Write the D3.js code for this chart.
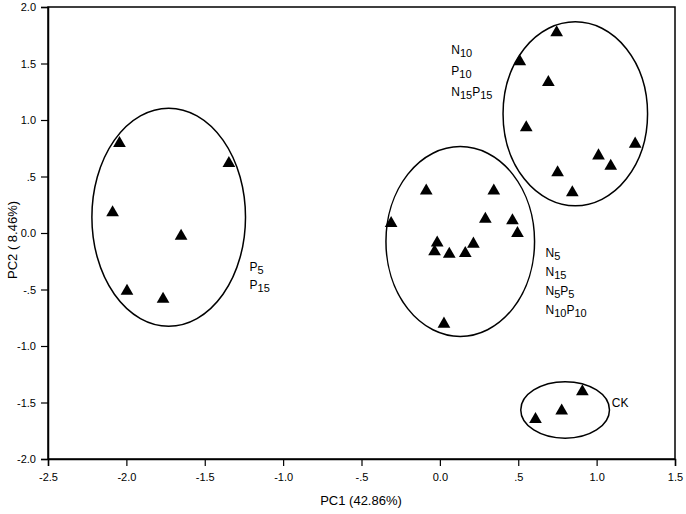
<!DOCTYPE html>
<html><head><meta charset="utf-8">
<script src="https://cdn.jsdelivr.net/npm/d3@7"></script>
<style>body{margin:0;background:#fff}svg{display:block}text{font-family:"Liberation Sans",Arial,sans-serif;fill:#000}</style>
</head><body><svg id="c" width="686" height="514"></svg>
<script>
const xTicks=[-2.5,-2.0,-1.5,-1.0,-0.5,0.0,0.5,1.0,1.5];
const xTickLabels=["-2.5","-2.0","-1.5","-1.0","-.5","0.0",".5","1.0","1.5"];
const yTicks=[-2.0,-1.5,-1.0,-0.5,0.0,0.5,1.0,1.5,2.0];
const yTickLabels=["-2.0","-1.5","-1.0","-.5","0.0",".5","1.0","1.5","2.0"];
const xTitle="PC1 (42.86%)";
const yTitle="PC2 ( 8.46%)";
// points
const pc1=[-2.044,-1.346,-2.088,-1.651,-1.996,-1.766,
 -0.087,0.344,-0.311,0.290,0.463,0.495,-0.017,-0.034,0.060,0.214,0.162,0.026,
 0.745,0.510,0.692,0.551,1.246,1.012,1.090,0.751,0.845,
 0.909,0.777,0.610];
const pc2=[0.794,0.617,0.180,-0.027,-0.513,-0.584,
 0.374,0.374,0.086,0.124,0.109,-0.003,-0.086,-0.165,-0.186,-0.097,-0.180,-0.805,
 1.773,1.516,1.333,0.932,0.788,0.684,0.593,0.534,0.357,
 -1.404,-1.573,-1.649];
// group ellipses
const ellCx=[-1.730,0.130,0.864,0.799];
const ellCy=[0.140,-0.075,1.055,-1.566];
const ellRx=[0.490,0.474,0.461,0.283];
const ellRy=[0.965,0.840,0.814,0.250];
// group labels: lines of [base, sub] pairs
const labelLines=[
 [[["N","10"]],[["P","10"]],[["N","15"],["P","15"]]],
 [[["P","5"]],[["P","15"]]],
 [[["N","5"]],[["N","15"]],[["N","5"],["P","5"]],[["N","10"],["P","10"]]],
 [[["CK",""]]]
];
const labelX=[0.073,-1.214,0.674,1.097];
const labelY=[1.585,-0.336,-0.212,-1.541];

const svg=d3.select("#c");
const x=d3.scaleLinear().domain([-2.5,1.5]).range([48,675]);
const y=d3.scaleLinear().domain([-2,2]).range([459,7]);

svg.append("rect").attr("x",48).attr("y",7).attr("width",627).attr("height",452)
 .attr("fill","none").attr("stroke","#000").attr("stroke-width",1.5);

const xa=svg.append("g").attr("transform","translate(0,459)")
 .call(d3.axisBottom(x).tickValues(xTicks).tickFormat((d,i)=>xTickLabels[i]).tickSize(7).tickPadding(7));
const ya=svg.append("g").attr("transform","translate(48,0)")
 .call(d3.axisLeft(y).tickValues(yTicks).tickFormat((d,i)=>yTickLabels[i]).tickSize(7).tickPadding(5));
[xa,ya].forEach(a=>{a.select(".domain").attr("stroke-width",1.5);
 a.selectAll(".tick line").attr("stroke-width",1.2);
 a.selectAll("text").attr("font-size",11).style("font-family","Liberation Sans, Arial, sans-serif").attr("fill","#222");});

svg.append("text").attr("x",361).attr("y",505).attr("text-anchor","middle").attr("font-size",13).attr("fill","#222").text(xTitle);
svg.append("text").attr("transform","translate(17,240) rotate(-90)").attr("text-anchor","middle").attr("font-size",13).attr("fill","#222").text(yTitle);

svg.selectAll("ellipse").data(ellCx).enter().append("ellipse")
 .attr("cx",(d)=>x(d)).attr("cy",(d,i)=>y(ellCy[i]))
 .attr("rx",(d,i)=>x(d+ellRx[i])-x(d)).attr("ry",(d,i)=>y(ellCy[i])-y(ellCy[i]+ellRy[i]))
 .attr("fill","none").attr("stroke","#000").attr("stroke-width",1.5);

const tri=d3.symbol().type(d3.symbolTriangle).size(70);
svg.selectAll("path.pt").data(pc1).enter().append("path").attr("class","pt")
 .attr("d",tri).attr("transform",(d,i)=>`translate(${x(d)},${y(pc2[i])})`).attr("fill","#000");

const lineGap=[21,18,19,0];
labelLines.forEach((lines,g)=>{
 lines.forEach((parts,li)=>{
  const t=svg.append("text").attr("x",x(labelX[g])).attr("y",y(labelY[g])+li*lineGap[g]).attr("font-size",12).attr("fill","#222");
  let off=0;
  parts.forEach(p=>{
   t.append("tspan").attr("dy",-off).text(p[0]); off=0;
   if(p[1]) {t.append("tspan").attr("font-size",11).attr("dy",3).text(p[1]); off=3;}
  });
 });
});
</script></body></html>
